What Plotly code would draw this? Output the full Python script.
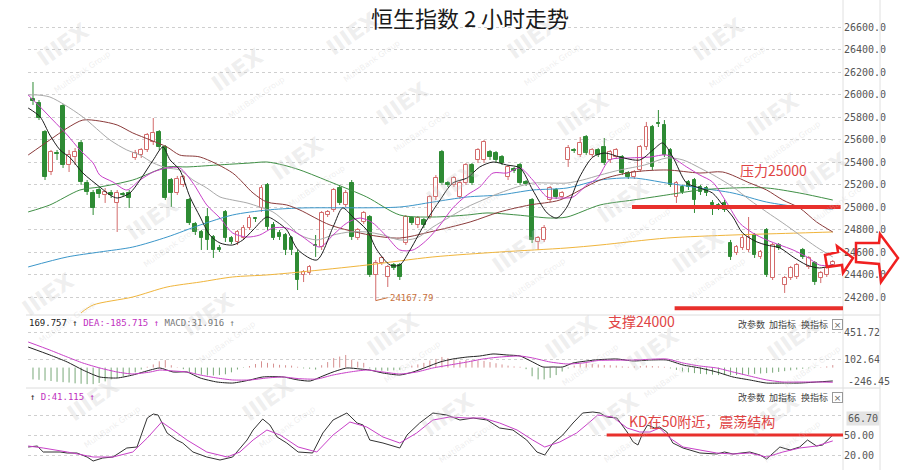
import plotly.graph_objects as go

W, H = 900, 470

# ---------------- data ----------------
open_ = [25960, 25924, 25667, 25311, 25480, 25898, 25373, 25444, 25569, 25213,
         25124, 25151, 25107, 25124, 25036, 25116, 25124, 25436, 25462, 25507,
         25578, 25667, 25533, 25240, 25124, 25196, 25062, 24849, 24778, 24911,
         24733, 24636, 24956, 24724, 24689, 24724, 24813, 24902, 24991, 25196,
         24840, 24769, 24751, 24724, 24591, 24396, 24413, 24662, 24644, 24929,
         24973, 25169, 25018, 25213, 24724, 24867, 24911, 24396, 24502, 24378,
         24484, 24484, 24680, 24902, 24840, 24884, 24911, 25089, 25489, 25213,
         25196, 25089, 25213, 25373, 25418, 25418, 25489, 25480, 25444, 25267,
         25338, 25373, 25222, 25062, 24689, 24707, 25062, 25151, 25089, 25418,
         25507, 25462, 25622, 25462, 25507, 25533, 25418, 25444, 25444, 25302,
         25267, 25329, 25533, 25711, 25747, 25729, 25507, 25089, 25178, 25222,
         25240, 25178, 25169, 25036, 25018, 25036, 24680, 24591, 24636, 24618,
         24751, 24556, 24796, 24369, 24662, 24307, 24369, 24378, 24618, 24467,
         24502, 24369, 24396, 24484]
close = [25942, 25791, 25267, 25489, 25471, 25373, 25462, 25489, 25222, 25133,
         24991, 25116, 25133, 25107, 25124, 25107, 25080, 25480, 25507, 25640,
         25658, 25533, 25080, 25124, 25249, 25267, 24858, 24778, 24724, 24707,
         24618, 24618, 24724, 24689, 24778, 24813, 24902, 24893, 25169, 24822,
         24724, 24733, 24618, 24618, 24351, 24422, 24467, 24653, 24947, 24956,
         25151, 25036, 25124, 24733, 24796, 24947, 24396, 24502, 24547, 24467,
         24458, 24378, 24911, 24858, 24902, 24840, 25089, 25258, 25213, 25196,
         25258, 25213, 25373, 25213, 25507, 25578, 25444, 25418, 25391, 25356,
         25320, 25213, 25204, 24707, 24724, 24813, 25169, 25089, 25124, 25524,
         25498, 25569, 25480, 25507, 25462, 25391, 25489, 25507, 25302, 25267,
         25311, 25533, 25711, 25356, 25738, 25462, 25196, 25213, 25133, 25178,
         25062, 25133, 25124, 25018, 24991, 24973, 24556, 24644, 24724, 24733,
         24573, 24600, 24396, 24662, 24636, 24369, 24458, 24484, 24556, 24547,
         24333, 24413, 24458, 24511]
high = [26111, 25951, 25684, 25507, 25507, 25916, 25507, 25524, 25596, 25240,
        25151, 25178, 25169, 25151, 25151, 25133, 25151, 25507, 25524, 25658,
        25791, 25684, 25551, 25258, 25276, 25284, 25080, 24867, 24796, 24991,
        24751, 24662, 24973, 24742, 24796, 24840, 24929, 24911, 25196, 25213,
        24867, 24796, 24769, 24742, 24618, 24440, 24484, 24751, 24964, 24973,
        25169, 25196, 25151, 25240, 24813, 24964, 24929, 24529, 24564, 24484,
        24502, 24502, 24929, 24920, 24920, 24902, 25107, 25284, 25507, 25231,
        25276, 25231, 25391, 25391, 25524, 25596, 25507, 25498, 25462, 25373,
        25356, 25391, 25240, 25080, 24742, 24840, 25187, 25169, 25142, 25551,
        25524, 25622, 25640, 25524, 25524, 25613, 25507, 25524, 25462, 25320,
        25329, 25551, 25756, 25729, 25862, 25773, 25524, 25231, 25196, 25240,
        25258, 25196, 25187, 25062, 25036, 25062, 24707, 24662, 24751, 24911,
        24769, 24618, 24813, 24680, 24680, 24387, 24476, 24502, 24636, 24564,
        24520, 24431, 24476, 24529]
low = [25907, 25773, 25240, 25284, 25418, 25347, 25311, 25373, 25196, 25107,
       24929, 25080, 25036, 25080, 24778, 25089, 24991, 25418, 25436, 25489,
       25551, 25507, 25062, 25000, 25107, 25178, 24840, 24751, 24618, 24618,
       24547, 24600, 24689, 24671, 24662, 24707, 24796, 24867, 24956, 24796,
       24707, 24707, 24573, 24573, 24262, 24333, 24396, 24556, 24618, 24911,
       24956, 25018, 25000, 24707, 24707, 24849, 24378, 24167.79, 24484, 24289,
       24440, 24351, 24662, 24840, 24813, 24813, 24893, 25062, 25196, 25178,
       25178, 25071, 25196, 25196, 25391, 25391, 25418, 25391, 25373, 25240,
       25302, 25196, 25187, 24680, 24618, 24689, 25044, 25071, 25071, 25356,
       25480, 25444, 25462, 25444, 25444, 25373, 25391, 25427, 25284, 25249,
       25249, 25311, 25507, 25329, 25711, 25444, 25178, 25036, 25116, 25151,
       24947, 25107, 25098, 24929, 24973, 24956, 24529, 24573, 24618, 24600,
       24547, 24538, 24378, 24351, 24618, 24236, 24351, 24360, 24538, 24449,
       24307, 24324, 24378, 24467]

# moving averages (position in candle index, price)
ma5_x = [-0.8, 1.2, 2.8, 4.5, 6.2, 8.3, 11.1, 12.8, 14.0, 16.1, 17.8, 20.0, 21.6, 22.8, 24.4, 26.1,
         27.8, 29.4, 31.1, 33.2, 34.9, 36.6, 38.9, 40.6, 42.2, 44.1, 47.2, 49.9, 51.5, 53.2, 55.5,
         57.2, 59.4, 61.0, 62.7, 65.5, 67.7, 69.8, 72.2, 74.3, 76.5, 78.8, 81.0, 83.1, 85.5, 87.1,
         88.8, 90.9, 93.1, 95.1, 97.6, 100.9, 103.1, 104.7, 106.4, 108.7, 110.9, 113.0, 114.7,
         116.4, 118.0, 120.4, 122.0, 124.2, 126.4, 128.7, 130.8, 133.0]
ma5_v = [25880, 25800, 25640, 25507, 25436, 25302, 25178, 25107, 25080, 25124, 25240, 25418, 25533,
         25418, 25329, 25089, 24911, 24751, 24680, 24662, 24707, 24796, 24911, 24867, 24796, 24618,
         24529, 24822, 24991, 24911, 24796, 24618, 24484, 24484, 24618, 24884, 25062, 25213, 25258,
         25356, 25400, 25373, 25347, 25151, 24947, 24902, 25000, 25267, 25444, 25480, 25444, 25418,
         25507, 25569, 25444, 25213, 25169, 25124, 25018, 24911, 24769, 24689, 24662, 24636, 24556,
         24484, 24458, 24484]
ma10_x = [-0.8, 1.7, 3.3, 5.7, 7.8, 10.0, 11.1, 13.3, 15.6, 17.8, 20.0, 22.3, 24.4, 26.6, 28.9, 31.1,
          33.2, 35.6, 37.7, 39.9, 42.2, 44.4, 47.7, 49.9, 52.2, 54.4, 56.5, 58.9, 61.0, 63.2, 65.5,
          67.7, 69.8, 72.2, 74.3, 76.5, 78.8, 81.0, 83.1, 85.5, 87.6, 89.8, 92.1, 93.9, 95.9, 99.3,
          102.6, 105.4, 108.7, 110.9, 113.0, 115.4, 117.5, 119.7, 122.0, 124.2, 126.4, 128.7, 130.8,
          133.0]
ma10_v = [25996, 25862, 25773, 25640, 25507, 25391, 25284, 25222, 25151, 25240, 25311, 25347, 25347,
          25213, 25018, 24902, 24769, 24733, 24751, 24813, 24813, 24751, 24644, 24751, 24858, 24902,
          24858, 24733, 24618, 24618, 24707, 24840, 24991, 25107, 25178, 25302, 25302, 25347, 25240,
          25089, 25080, 25089, 25196, 25258, 25418, 25436, 25444, 25462, 25356, 25284, 25222, 25036,
          24858, 24769, 24707, 24662, 24618, 24556, 24484, 24484]
ma20_x = [-0.8, 0.7, 2.8, 5.3, 8.3, 12.8, 15.6, 17.8, 20.0, 22.3, 24.4, 26.6, 28.9, 31.1, 33.2, 35.6,
          37.7, 39.9, 42.2, 44.4, 47.2, 49.9, 52.7, 55.5, 58.2, 61.0, 63.8, 66.5, 69.3, 72.2, 74.8,
          77.6, 80.5, 83.1, 86.0, 88.8, 91.4, 94.3, 97.6, 101.7, 105.4, 108.1, 110.9, 113.7, 116.4,
          119.2, 122.0, 124.7, 127.5, 130.3, 133.0]
ma20_v = [25996, 25996, 25978, 25907, 25800, 25596, 25507, 25462, 25391, 25347, 25329, 25240, 25169,
          25089, 25062, 25036, 25000, 24956, 24858, 24751, 24707, 24751, 24778, 24778, 24751, 24707,
          24724, 24822, 24911, 25000, 25062, 25124, 25178, 25213, 25213, 25213, 25240, 25284, 25329,
          25373, 25436, 25418, 25347, 25267, 25178, 25062, 24956, 24858, 24751, 24644, 24556]
ma30_x = [-0.8, 2.8, 5.7, 8.3, 11.1, 14.0, 16.6, 19.5, 22.3, 24.4, 27.8, 33.2, 36.6, 38.9, 42.2, 44.4,
          49.4, 56.0, 61.0, 66.0, 72.7, 77.6, 82.6, 87.6, 94.3, 99.8, 105.4, 110.9, 114.7, 119.2,
          122.0, 124.7, 127.5, 130.3, 133.0]
ma30_v = [25462, 25596, 25702, 25773, 25764, 25729, 25658, 25596, 25533, 25462, 25444, 25302, 25124,
          25044, 25018, 24973, 24840, 24751, 24724, 24778, 24867, 24956, 25018, 25062, 25240, 25311,
          25329, 25302, 25311, 25213, 25151, 25062, 24991, 24867, 24778]
ma60_x = [-0.8, 2.8, 7.8, 11.1, 16.6, 22.3, 25.6, 30.6, 36.1, 38.9, 41.6, 44.4, 49.9, 55.5, 61.0, 66.5,
          72.2, 75.5, 80.5, 86.0, 88.8, 94.3, 99.8, 105.4, 110.9, 116.4, 122.0, 127.5, 133.0]
ma60_v = [24956, 25018, 25151, 25178, 25240, 25356, 25356, 25373, 25391, 25400, 25373, 25329, 25213,
          25089, 24929, 24911, 24929, 24947, 24929, 24902, 24911, 25018, 25062, 25107, 25151, 25169,
          25169, 25124, 25062]
ma120_x = [-0.8, 5.7, 11.1, 16.6, 22.3, 27.8, 33.2, 38.9, 44.4, 61.0, 66.5, 72.2, 77.6, 83.1, 88.8,
           94.3, 99.8, 105.4, 110.9, 116.4, 122.0, 127.5, 133.0]
ma120_v = [24467, 24556, 24600, 24644, 24733, 24840, 24929, 24973, 24991, 25000, 25044, 25089, 25107,
           25151, 25169, 25240, 25258, 25213, 25169, 25124, 25044, 25000, 24982]
ma250_x = [8.0, 10.0, 16.6, 22.3, 27.8, 33.2, 38.9, 44.4, 55.5, 66.5, 77.6, 88.8, 94.3, 105.4, 116.4,
           127.5, 133.0]
ma250_v = [24060, 24129, 24200, 24289, 24333, 24378, 24396, 24422, 24484, 24556, 24600, 24636, 24662,
           24724, 24751, 24769, 24778]

# MACD
macd_hist = [-150, -155, -165, -170, -180, -185, -190, -200, -205, -210, -210, -195, -175, -150, -130,
             -110, -90, -60, -25,
             10, 40, 80, 95, 30, 5, -20, -60, -80, -90, -100, -100, -95, -85, -60, -25, -5, 20, 45,
             80, 60, 50, 35, 30, 25, 10,
             -10, -15, -25, 30, 70, 120, 140, 160, 100, 75, 60, -10, -30, -40, -40, -35, -30, -5,
             25, 40, 60, 90, 110, 135, 120, 100, 85, 95, 90, 90, 85, 70, 55, 40, 25, 15, 10,
             -20, -110, -150, -150, -130, -95, -50, -10, 25, 45, 55, 45,
             40, 33, 30, 25, 15, 10, 15, 20, 25, 20, 15, 10,
             -10, -30, -50, -60, -70, -80, -85, -90, -95, -95, -95, -95, -90, -90, -80, -75, -70,
             -65, -55, -45, -35, -25, -15, -10, -5, 5, 15, 31.916]
dif_x = [-0.8, 2.8, 5.7, 8.3, 11.1, 14.0, 16.6, 19.5, 21.1, 23.3, 25.6, 27.8, 30.6, 33.2, 36.1, 38.2,
         41.6, 44.1, 46.1, 48.2, 49.9, 52.2, 54.4, 56.0, 58.2, 61.0, 63.2, 65.5, 67.7, 69.8, 72.2,
         74.3, 76.5, 78.8, 81.0, 83.1, 84.8, 86.5, 88.1, 89.8, 92.1, 94.0, 97.1, 99.8, 102.6, 105.4,
         108.1, 110.9, 113.7, 116.4, 119.2, 122.0, 124.7, 127.5, 130.3, 133.0]
dif_v = [261, 160, 71, -31, -119, -132, -94, -31, -5, -56, -56, -132, -183, -196, -157, -119, -119,
         -157, -170, -107, -56, -5, -18, -31, -69, -94, -56, 8, 71, 109, 134, 147, 173, 160, 147, 71,
         8, 8, 8, 58, 84, 100, 109, 84, 96, 96, 33, -5, -56, -119, -157, -196, -196, -196, -183,
         -169.757]
dea_x = [-0.8, 2.8, 5.7, 8.3, 11.1, 14.0, 16.6, 19.5, 21.1, 23.3, 25.6, 27.8, 30.6, 33.2, 36.1, 38.9,
         41.6, 44.1, 47.2, 49.9, 52.7, 55.5, 58.2, 61.0, 63.8, 66.5, 69.3, 72.2, 74.8, 77.6, 81.0,
         83.1, 86.0, 88.8, 91.4, 94.0, 99.8, 105.4, 108.1, 110.9, 113.7, 116.4, 119.2, 122.0, 124.7,
         127.5, 130.3, 133.0]
dea_v = [325, 223, 134, 58, -5, -56, -81, -56, -31, -43, -56, -94, -132, -157, -157, -132, -119, -140,
         -145, -94, -56, -31, -56, -81, -56, -5, 33, 71, 109, 134, 147, 122, 71, 46, 58, 90, 96, 109,
         58, 20, -5, -56, -107, -157, -183, -183, -183, -185.715]
macd_ticks = [451.72, 102.64, -246.45]

# KD
k_x = [-0.8, 0.7, 1.7, 4.5, 5.7, 7.3, 9.0, 10.0, 11.6, 13.3, 15.6, 17.3, 19.0, 20.0, 20.8, 22.3, 23.9,
       24.9, 26.6, 28.9, 31.1, 33.2, 35.6, 36.6, 38.2, 39.4, 40.6, 42.2, 44.1, 46.5, 48.2, 49.9, 52.2,
       53.9, 54.9, 56.0, 58.2, 61.0, 62.2, 64.3, 66.5, 68.8, 71.0, 73.2, 75.5, 77.6, 79.8, 82.1, 83.8,
       85.1, 86.5, 88.1, 89.8, 91.4, 93.1, 94.3, 95.4, 97.1, 98.8, 99.8, 100.6, 101.4, 102.2, 103.4,
       104.2, 105.4, 106.4, 108.1, 110.9, 113.7, 115.0, 116.4, 119.2, 120.9, 122.0, 124.2, 125.9,
       127.5, 128.8, 130.3, 131.3, 133.0]
k_v = [32, 33.5, 24.5, 24.5, 23, 23, 17, 11, 15.5, 17, 30.5, 32, 75.5, 81.5, 80, 53, 42.5, 38, 24.5,
       17, 12.5, 17, 42.5, 57.5, 74, 65, 47, 38, 24.5, 23, 53, 72.5, 83, 68, 65, 42.5, 38, 30.5, 50,
       68, 83, 80, 72.5, 75.5, 72.5, 60.5, 57.5, 42.5, 24.5, 20, 38, 50, 68, 83, 84.5, 83, 77, 75.5,
       54.5, 39.5, 35, 53, 65, 60.5, 62, 54.5, 38, 30.5, 23, 21.5, 24.5, 21.5, 24.5, 20, 14, 32, 27.5,
       32, 42.5, 33.5, 35, 50]
d_x = [-0.8, 1.7, 5.7, 10.0, 13.3, 16.6, 19.0, 21.4, 23.3, 25.6, 28.9, 32.3, 34.4, 36.6, 38.9, 41.1,
       44.1, 47.2, 49.9, 52.7, 55.5, 58.2, 61.0, 63.8, 66.5, 69.3, 72.2, 74.8, 77.6, 80.5, 83.1, 85.1,
       87.6, 90.4, 92.6, 93.9, 96.4, 98.8, 100.9, 102.6, 104.2, 105.9, 108.1, 110.9, 113.7, 116.4,
       119.2, 122.0, 124.7, 127.5, 130.3, 133.0]
d_v = [33.5, 30.5, 24.5, 17, 17, 24.5, 45.5, 69.5, 57.5, 42.5, 24.5, 17, 24.5, 42.5, 57.5, 50, 32,
       24.5, 50, 69.5, 62, 47, 38, 53, 72.5, 77, 75.5, 75.5, 68, 57.5, 42.5, 32, 39.5, 53, 69.5, 80,
       77, 60.5, 54.5, 54.5, 60.5, 45.5, 32, 27.5, 23, 21.5, 23, 17, 24.5, 30.5, 33.5, 41.115]
kd_ticks = [80, 50, 20]

price_ticks = [24200, 24400, 24600, 24800, 25000, 25200, 25400, 25600, 25800, 26000, 26200, 26400, 26600]
low_point = 24167.79
pressure_level = 25000
support_level = 24100
kd_level = 50

# ---------------- helpers ----------------
def px(x):
    return x / W

def py(y):
    return 1 - y / H

UP = '#d36b6b'
DN = '#2e8b34'
n = len(close)
idx = list(range(n))
up_i = [i for i in idx if close[i] >= open_[i]]
dn_i = [i for i in idx if close[i] < open_[i]]

fig = go.Figure()

def wick_trace(ids, color):
    xs, ys = [], []
    for i in ids:
        top = max(open_[i], close[i])
        bot = min(open_[i], close[i])
        xs += [i, i, None, i, i, None]
        ys += [top, high[i], None, low[i], bot, None]
    return go.Scatter(x=xs, y=ys, mode='lines', line=dict(color=color, width=1),
                      hoverinfo='skip', showlegend=False, xaxis='x', yaxis='y')

fig.add_trace(wick_trace(up_i, UP))
fig.add_trace(wick_trace(dn_i, DN))

fig.add_trace(go.Bar(x=up_i, y=[close[i] - open_[i] for i in up_i], base=[open_[i] for i in up_i],
                     width=0.62, marker=dict(color='white', line=dict(color=UP, width=1)),
                     showlegend=False, xaxis='x', yaxis='y'))
fig.add_trace(go.Bar(x=dn_i, y=[open_[i] - close[i] for i in dn_i], base=[close[i] for i in dn_i],
                     width=0.62, marker=dict(color=DN, line=dict(color=DN, width=1)),
                     showlegend=False, xaxis='x', yaxis='y'))

for xs, vs, col in [(ma250_x, ma250_v, '#f0b53c'), (ma120_x, ma120_v, '#3b96c9'),
                    (ma60_x, ma60_v, '#3f8f45'), (ma30_x, ma30_v, '#8b3b3b'),
                    (ma20_x, ma20_v, '#a9a9a9'), (ma10_x, ma10_v, '#c840c8'),
                    (ma5_x, ma5_v, '#1e1e1e')]:
    fig.add_trace(go.Scatter(x=xs, y=vs, mode='lines', line=dict(color=col, width=1, shape='spline',
                                                                  smoothing=0.8),
                             showlegend=False, hoverinfo='skip', xaxis='x', yaxis='y'))

# MACD histogram as thin stems
for positive, col in ((True, '#d69090'), (False, '#78a878')):
    xs, ys = [], []
    for i, v in enumerate(macd_hist):
        if (v >= 0) == positive:
            xs += [i, i, None]
            ys += [0, v, None]
    fig.add_trace(go.Scatter(x=xs, y=ys, mode='lines', line=dict(color=col, width=1),
                             showlegend=False, hoverinfo='skip', xaxis='x2', yaxis='y2'))
fig.add_trace(go.Scatter(x=dif_x, y=dif_v, mode='lines',
                         line=dict(color='#222', width=1, shape='spline', smoothing=0.6),
                         showlegend=False, xaxis='x2', yaxis='y2'))
fig.add_trace(go.Scatter(x=dea_x, y=dea_v, mode='lines',
                         line=dict(color='#c840c8', width=1, shape='spline', smoothing=0.6),
                         showlegend=False, xaxis='x2', yaxis='y2'))

fig.add_trace(go.Scatter(x=k_x, y=k_v, mode='lines', line=dict(color='#333', width=1),
                         showlegend=False, xaxis='x3', yaxis='y3'))
fig.add_trace(go.Scatter(x=d_x, y=d_v, mode='lines', line=dict(color='#c840c8', width=1),
                         showlegend=False, xaxis='x3', yaxis='y3'))

XR = [-0.83, 134.7]
XD = [px(28), px(843)]
TICKFONT = dict(family='Liberation Sans Narrow, DejaVu Sans Mono', size=10, color='#555')
GRID = dict(showgrid=True, gridcolor='#cfcfcf', griddash='dot', gridwidth=1, zeroline=False,
            side='right', ticks='', showline=False, tickfont=TICKFONT)
xcommon = dict(domain=XD, range=XR, showticklabels=False, showgrid=False, zeroline=False,
               showline=False, ticks='')

fig.update_layout(
    width=W, height=H, margin=dict(l=0, r=0, t=0, b=0, pad=0),
    paper_bgcolor='white', plot_bgcolor='white', barmode='overlay', bargap=0,
    showlegend=False,
    xaxis=dict(anchor='y', **xcommon),
    xaxis2=dict(anchor='y2', matches='x', **xcommon),
    xaxis3=dict(anchor='y3', matches='x', **xcommon),
    yaxis=dict(domain=[py(315), 1], range=[24040, 26840], anchor='x',
               tickvals=price_ticks, ticktext=['%.1f' % v for v in price_ticks], **GRID),
    yaxis2=dict(domain=[py(388), py(315)], range=[-259, 667.4], anchor='x2',
                tickvals=macd_ticks, ticktext=['%.2f' % v for v in macd_ticks[:2]] + [''], **GRID),
    yaxis3=dict(domain=[0, py(388)], range=[-2.5, 120.5], anchor='x3',
                tickvals=kd_ticks, ticktext=['', '50.00', '20.00'], **GRID),
)

shapes = []
for yy in (315, 388):
    shapes.append(dict(type='line', xref='paper', yref='paper', x0=px(26), x1=px(880),
                       y0=py(yy), y1=py(yy), line=dict(color='#dcdcdc', width=1)))
for xx in (843, 880):
    shapes.append(dict(type='line', xref='paper', yref='paper', x0=px(xx), x1=px(xx),
                       y0=0, y1=1, line=dict(color='#e0e0e0', width=1)))
shapes.append(dict(type='line', xref='x', yref='y', x0=99.6, x1=134.3, y0=pressure_level,
                   y1=pressure_level, line=dict(color='#e8302c', width=4)))
shapes.append(dict(type='line', xref='x', yref='y', x0=106.7, x1=134.7, y0=support_level,
                   y1=support_level, line=dict(color='#e8302c', width=4)))
shapes.append(dict(type='line', xref='x3', yref='y3', x0=95.4, x1=134.7, y0=kd_level,
                   y1=kd_level, line=dict(color='#e8302c', width=3)))

def poly(pts):
    return 'M ' + ' L '.join('%.5f,%.5f' % (px(a), py(b)) for a, b in pts) + ' Z'

arrow1 = [(825, 255), (838, 252), (837, 246), (853, 258), (843, 273), (842, 265), (827, 267)]
arrow2 = [(856, 243), (879, 243), (880, 234), (898, 258), (881, 282), (879, 264), (856, 262)]
for a in (arrow1, arrow2):
    shapes.append(dict(type='path', xref='paper', yref='paper', path=poly(a),
                       line=dict(color='#f02020', width=2.5), fillcolor='rgba(0,0,0,0)'))
fig.update_layout(shapes=shapes)

ann = []
def note(x, y, text, font, xanchor='left', **kw):
    d = dict(xref='paper', yref='paper', x=px(x), y=py(y), text=text, showarrow=False,
             xanchor=xanchor, yanchor='middle', font=font)
    d.update(kw)
    ann.append(d)

wm = [(70, 55), (245, 80), (360, 45), (410, 115), (540, 48), (590, 125), (725, 50), (780, 125),
      (160, 230), (305, 170), (460, 195), (525, 262), (630, 212), (705, 262), (830, 185),
      (55, 305), (215, 325), (100, 410), (275, 410), (400, 345), (578, 348), (455, 425),
      (660, 360), (800, 350), (620, 425), (780, 425)]
for (a, b) in wm:
    note(a, b, '<b>IIIEX</b><br><span style="font-size:8px">MultiBank Group</span>',
         dict(family='DejaVu Sans', size=22, color='rgba(200,200,200,0.30)'),
         xanchor='center', textangle=-35)

CJK = 'Noto Sans CJK SC'
note(470, 17, '恒生指数 2 小时走势', dict(family=CJK, size=22, color='#1a1a1a'), xanchor='center')
RED = '#e04444'
note(738, 170, '压力25000', dict(family=CJK, size=14, color=RED))
note(606, 321, '支撑24000', dict(family=CJK, size=14, color=RED))
note(627, 421, 'KD在50附近，震荡结构', dict(family=CJK, size=14, color=RED))

MONO = 'DejaVu Sans Mono'
note(27, 323, '<span style="color:#222">169.757 ↑</span> '
              '<span style="color:#c030c0">DEA:-185.715 ↑</span> '
              '<span style="color:#777">MACD:31.916 ↑</span>', dict(family=MONO, size=9))
note(28, 397, '<span style="color:#222">↑</span> <span style="color:#c030c0">D:41.115 ↑</span>',
     dict(family=MONO, size=9))
for yy in (324, 397):
    for xx, word in ((736, '改参数'), (767, '加指标'), (799, '换指标')):
        note(xx, yy, word, dict(family=CJK, size=9, color='#444'))
    note(837, yy, '×', dict(family='DejaVu Sans', size=9, color='#666'), xanchor='center',
         bordercolor='#999', borderwidth=1, borderpad=0, width=9, height=9)
note(846, 381, '-246.45', TICKFONT)
note(846, 418, '66.70', TICKFONT, bgcolor='#e4e4e4')
ann.append(dict(xref='x', yref='y', x=57, y=low_point, showarrow=True, arrowhead=0, arrowwidth=1,
                arrowcolor='#c8703c', ax=12, ay=-3, xanchor='left', yanchor='middle',
                text='%.2f' % low_point, font=dict(family=MONO, size=9, color='#c8703c')))
fig.update_layout(annotations=ann)

fig.write_html('out.html', config={'displayModeBar': False},
               post_script="document.body.style.margin='0';")
